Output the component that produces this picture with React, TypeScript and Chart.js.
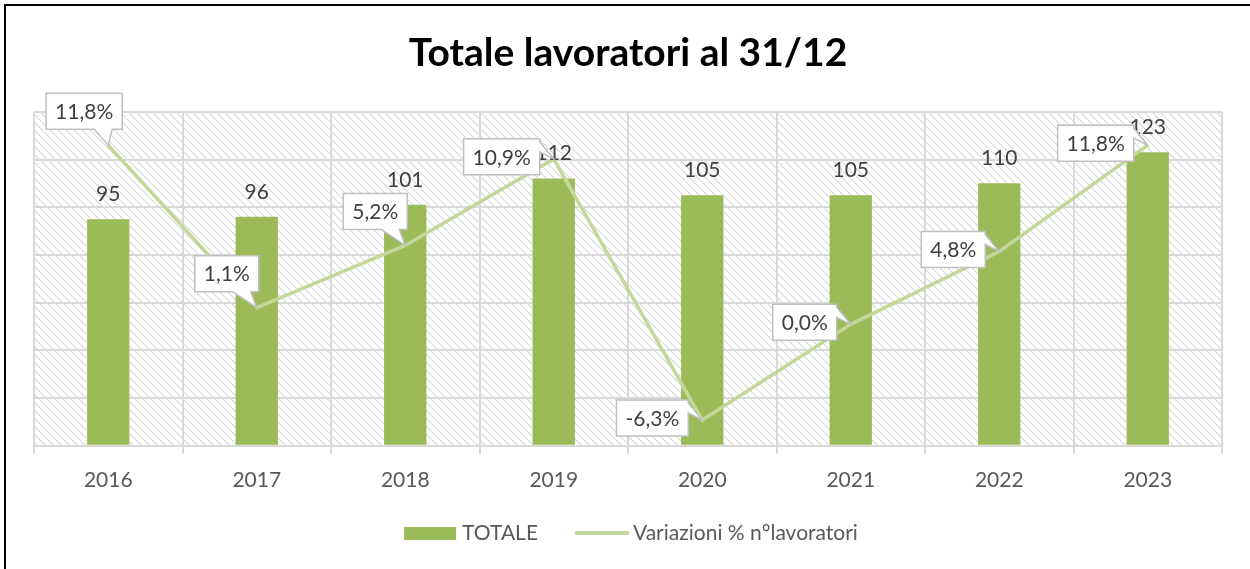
import React, { useEffect, useRef } from "react";
import { Chart, registerables } from "chart.js";

Chart.register(...registerables);

const categories = ["2016", "2017", "2018", "2019", "2020", "2021", "2022", "2023"];
const totale = [95, 96, 101, 112, 105, 105, 110, 123];
const variazioni = [11.8, 1.1, 5.2, 10.9, -6.3, 0.0, 4.8, 11.8];
const seriesNames = ["TOTALE", "Variazioni % n°lavoratori"];
const chartTitle = "Totale lavoratori al 31/12";

// callout placement style for each % label (style only)
const calloutPlacement = ["top", "topLeft", "topLeft", "left", "left", "left", "left", "left"];

const BAR_COLOR = "#9BBB59";
const LINE_COLOR = "#C4D79B";
const GRID_COLOR = "#D9D9D9";
const TEXT_COLOR = "#404040";
const TICK_COLOR = "#595959";
const FONT = "Lato";

const fmtPct = (v: number) => v.toFixed(1).replace(".", ",") + "%";

function makeHatch(ctx: CanvasRenderingContext2D) {
  const c = document.createElement("canvas");
  const s = 8;
  c.width = s;
  c.height = s;
  const p = c.getContext("2d")!;
  p.fillStyle = "#ffffff";
  p.fillRect(0, 0, s, s);
  p.strokeStyle = "#D8D8D8";
  p.lineWidth = 1.1;
  p.beginPath();
  p.moveTo(0, 0);
  p.lineTo(s, s);
  p.moveTo(-s / 2, s / 2);
  p.lineTo(s / 2, s * 1.5);
  p.moveTo(s / 2, -s / 2);
  p.lineTo(s * 1.5, s / 2);
  p.stroke();
  return ctx.createPattern(c, "repeat");
}

const decorPlugin = {
  id: "decor",
  beforeDraw(chart: any) {
    const { ctx, chartArea } = chart;
    ctx.save();
    ctx.fillStyle = "#ffffff";
    ctx.fillRect(0, 0, chart.width, chart.height);
    ctx.strokeStyle = "#000000";
    ctx.lineWidth = 2;
    ctx.strokeRect(5, 5, chart.width + 20, chart.height + 20);
    const pat = makeHatch(ctx);
    if (pat) {
      ctx.fillStyle = pat;
      ctx.fillRect(chartArea.left, chartArea.top, chartArea.right - chartArea.left, chartArea.bottom - chartArea.top);
    }
    ctx.restore();
  },
  afterDatasetsDraw(chart: any) {
    const { ctx } = chart;
    ctx.save();
    // bar labels
    const barMeta = chart.getDatasetMeta(1);
    ctx.font = `21px ${FONT}`;
    ctx.fillStyle = TEXT_COLOR;
    ctx.textAlign = "center";
    ctx.textBaseline = "middle";
    barMeta.data.forEach((el: any, i: number) => {
      ctx.fillText(String(totale[i]), el.x, el.y - 25);
    });
    // callouts
    const lineMeta = chart.getDatasetMeta(0);
    lineMeta.data.forEach((el: any, i: number) => {
      const txt = fmtPct(variazioni[i]);
      const px = el.x;
      const py = el.y;
      const tw = ctx.measureText(txt).width;
      const bw = tw + 18;
      const bh = 36;
      const mode = calloutPlacement[i];
      ctx.beginPath();
      let left: number, right: number, top: number, bottom: number;
      if (mode === "left") {
        right = px - 14;
        left = right - bw;
        top = py - bh / 2 - 2;
        bottom = top + bh;
        ctx.moveTo(left, top);
        ctx.lineTo(right, top);
        ctx.lineTo(right, top + 3);
        ctx.lineTo(px, py);
        ctx.lineTo(right, top + 13);
        ctx.lineTo(right, bottom);
        ctx.lineTo(left, bottom);
        ctx.closePath();
      } else {
        right = mode === "top" ? px + 14 : px + 2;
        left = right - bw;
        bottom = py - 16;
        top = bottom - bh;
        const b1 = right - (mode === "top" ? 10 : 8);
        const b2 = b1 - 18;
        ctx.moveTo(left, top);
        ctx.lineTo(right, top);
        ctx.lineTo(right, bottom);
        ctx.lineTo(b1, bottom);
        ctx.lineTo(px, py);
        ctx.lineTo(b2, bottom);
        ctx.lineTo(left, bottom);
        ctx.closePath();
      }
      ctx.fillStyle = "#ffffff";
      ctx.fill();
      ctx.strokeStyle = "#BFBFBF";
      ctx.lineWidth = 1.5;
      ctx.stroke();
      ctx.fillStyle = TEXT_COLOR;
      ctx.fillText(txt, (left + right) / 2, (top + bottom) / 2 + 1);
    });
    ctx.restore();
  },
  afterDraw(chart: any) {
    const { ctx } = chart;
    ctx.save();
    ctx.font = `21px ${FONT}`;
    ctx.textBaseline = "middle";
    ctx.textAlign = "left";
    const w1 = ctx.measureText(seriesNames[0]).width;
    const w2 = ctx.measureText(seriesNames[1]).width;
    const total = 52 + 6 + w1 + 37 + 54 + 4 + w2;
    let x = 631 - total / 2;
    const cy = 533;
    ctx.fillStyle = BAR_COLOR;
    ctx.fillRect(x, cy - 6, 52, 13);
    x += 58;
    ctx.fillStyle = TICK_COLOR;
    ctx.fillText(seriesNames[0], x, cy);
    x += w1 + 37;
    ctx.strokeStyle = LINE_COLOR;
    ctx.lineWidth = 4;
    ctx.beginPath();
    ctx.moveTo(x, cy);
    ctx.lineTo(x + 54, cy);
    ctx.stroke();
    x += 58;
    ctx.fillStyle = TICK_COLOR;
    ctx.fillText(seriesNames[1], x, cy);
    ctx.restore();
  },
};

export default function App() {
  const ref = useRef<HTMLCanvasElement | null>(null);
  useEffect(() => {
    if (!ref.current) return;
    const chart = new Chart(ref.current, {
      type: "bar",
      data: {
        labels: categories,
        datasets: [
          {
            type: "line",
            label: seriesNames[1],
            data: variazioni,
            yAxisID: "y1",
            borderColor: LINE_COLOR,
            backgroundColor: LINE_COLOR,
            borderWidth: 3.5,
            pointRadius: 0,
            tension: 0,
            order: 0,
          } as any,
          {
            type: "bar",
            label: seriesNames[0],
            data: totale,
            yAxisID: "y",
            backgroundColor: BAR_COLOR,
            categoryPercentage: 1,
            barPercentage: 0.285,
            order: 1,
          },
        ],
      },
      options: {
        responsive: false,
        animation: false,
        layout: { padding: { left: 34, right: 28, top: 0, bottom: 62 } },
        plugins: {
          legend: { display: false },
          tooltip: { enabled: false },
          title: {
            display: true,
            text: chartTitle,
            color: "#000000",
            font: { family: FONT, size: 39, weight: "bold" },
            padding: { top: 30, bottom: 35 },
          },
        },
        scales: {
          x: {
            offset: true,
            grid: { color: GRID_COLOR, lineWidth: 2, tickLength: 8, offset: true },
            border: { color: GRID_COLOR, width: 2 },
            ticks: { color: TICK_COLOR, font: { family: FONT, size: 21 }, padding: 14 },
          },
          y: {
            min: 0,
            max: 140,
            ticks: { display: false, stepSize: 20 },
            grid: { color: GRID_COLOR, lineWidth: 2, drawTicks: false },
            border: { display: false },
          },
          y1: {
            display: false,
            min: -8,
            max: 14,
          },
        },
      },
      plugins: [decorPlugin],
    });
    return () => chart.destroy();
  }, []);
  return (
    <div style={{ position: "fixed", left: 0, top: 0, width: 1250, height: 569, background: "#fff" }}>
      <canvas ref={ref} width={1250} height={569} style={{ display: "block" }} />
    </div>
  );
}
